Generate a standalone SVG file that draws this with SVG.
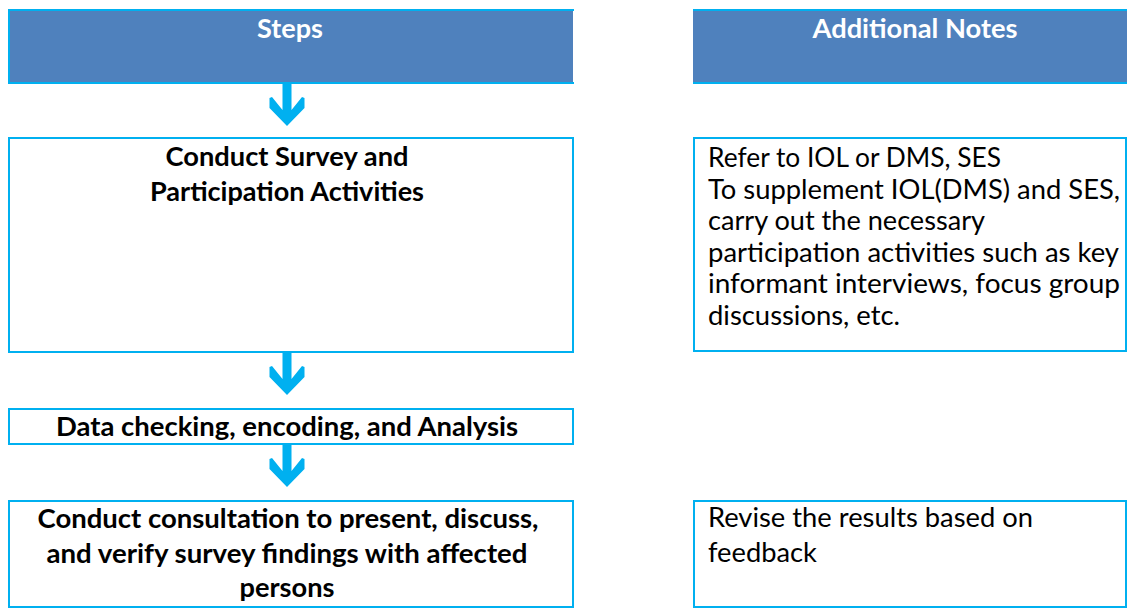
<svg xmlns="http://www.w3.org/2000/svg" xmlns:xlink="http://www.w3.org/1999/xlink" width="1127" height="609" viewBox="0 0 1127 609">
  <style>
    .box { fill: #FFFFFF; stroke: #00B0F0; stroke-width: 2; }
    .head { fill: #4F81BD; }
    .edge { stroke: #00B0F0; stroke-width: 2; fill: none; }
    .arrow { fill: #00B0F0; }
    .ht { font-family: Lato, "Open Sans", sans-serif; font-weight: bold; font-size: 27px; fill: #FFFFFF; text-anchor: middle; }
    .st { font-family: Lato, "Open Sans", sans-serif; font-weight: bold; font-size: 27px; fill: #000000; text-anchor: middle; }
    .nt { font-family: Lato, "Open Sans", sans-serif; font-size: 27px; fill: #000000; }
  </style>
  <defs>
    <!-- thick down arrow: shaft plus chevron head, origin at top of shaft -->
    <path id="downArrow" class="arrow" d="M-4.5,0 L4.5,0 L4.5,26 L15,13 L17.5,14 L17.5,24 L0,42 L-17.5,24 L-17.5,14 L-15,13 L-4.5,26 Z"/>
  </defs>

  <rect width="1127" height="609" fill="#FFFFFF"/>

  <!-- column headers -->
  <g id="steps-header">
    <rect class="head" x="8" y="10" width="565" height="73"/>
    <path class="edge" d="M574,10 H9 V83 H574"/>
    <text class="ht" x="290" y="38" textLength="66" lengthAdjust="spacingAndGlyphs">Steps</text>
  </g>
  <g id="notes-header">
    <rect class="head" x="693" y="10" width="434" height="73"/>
    <path class="edge" d="M693,10 H1127 M693,83 H1127"/>
    <text class="ht" x="915" y="38" textLength="205" lengthAdjust="spacingAndGlyphs">Additional Notes</text>
  </g>

  <!-- step boxes -->
  <g id="step-survey">
    <rect class="box" x="9" y="138" width="564" height="214"/>
    <text class="st" x="287" y="166" textLength="243" lengthAdjust="spacingAndGlyphs">Conduct Survey and</text>
    <text class="st" x="287" y="201" textLength="274" lengthAdjust="spacingAndGlyphs">Participation Activities</text>
  </g>
  <g id="step-analysis">
    <rect class="box" x="9" y="409" width="564" height="35"/>
    <text class="st" x="287" y="436" textLength="462" lengthAdjust="spacingAndGlyphs">Data checking, encoding, and Analysis</text>
  </g>
  <g id="step-consultation">
    <rect class="box" x="9" y="501" width="564" height="106"/>
    <text class="st" x="288" y="528" textLength="501" lengthAdjust="spacingAndGlyphs">Conduct consultation to present, discuss,</text>
    <text class="st" x="287" y="563" textLength="481" lengthAdjust="spacingAndGlyphs">and verify survey findings with affected</text>
    <text class="st" x="287" y="597" textLength="95" lengthAdjust="spacingAndGlyphs">persons</text>
  </g>

  <!-- note boxes -->
  <g id="note-survey">
    <rect class="box" x="694" y="138" width="432" height="213"/>
    <text class="nt" x="708" y="167" textLength="293" lengthAdjust="spacingAndGlyphs">Refer to IOL or DMS, SES</text>
    <text class="nt" x="708" y="198.5" textLength="412" lengthAdjust="spacingAndGlyphs">To supplement IOL(DMS) and SES,</text>
    <text class="nt" x="708" y="230" textLength="277" lengthAdjust="spacingAndGlyphs">carry out the necessary</text>
    <text class="nt" x="708" y="261.5" textLength="411" lengthAdjust="spacingAndGlyphs">participation activities such as key</text>
    <text class="nt" x="708" y="293" textLength="412" lengthAdjust="spacingAndGlyphs">informant interviews, focus group</text>
    <text class="nt" x="708" y="324.5" textLength="192" lengthAdjust="spacingAndGlyphs">discussions, etc.</text>
  </g>
  <g id="note-consultation">
    <rect class="box" x="694" y="501" width="432" height="106"/>
    <text class="nt" x="708" y="527" textLength="325" lengthAdjust="spacingAndGlyphs">Revise the results based on</text>
    <text class="nt" x="708" y="562" textLength="109" lengthAdjust="spacingAndGlyphs">feedback</text>
  </g>

  <!-- connectors -->
  <g id="connectors">
    <use xlink:href="#downArrow" href="#downArrow" x="287" y="84"/>
    <use xlink:href="#downArrow" href="#downArrow" x="287" y="353"/>
    <use xlink:href="#downArrow" href="#downArrow" x="287" y="445"/>
  </g>
</svg>
